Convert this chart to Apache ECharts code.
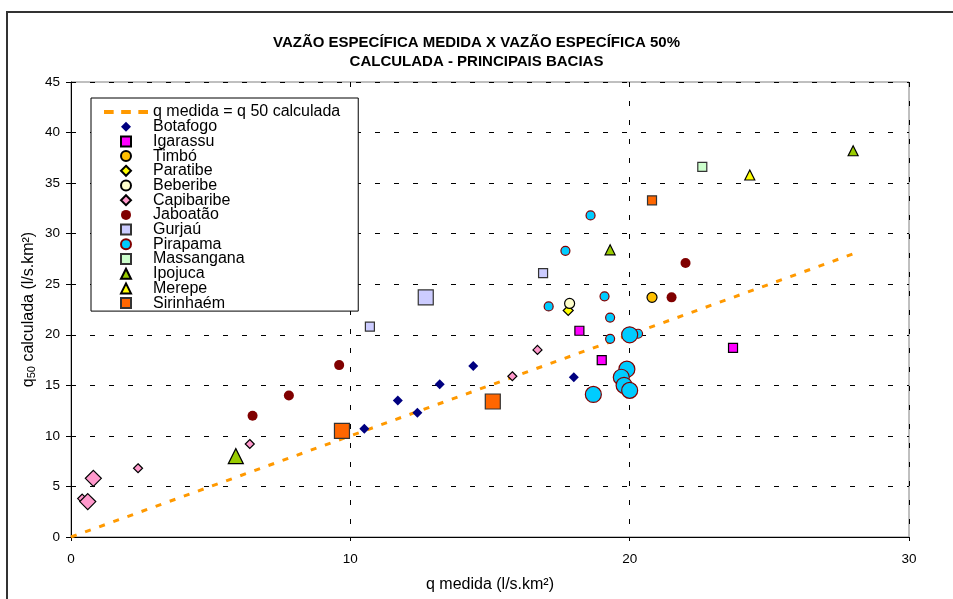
<!DOCTYPE html>
<html>
<head>
<meta charset="utf-8">
<script src="https://cdn.jsdelivr.net/npm/echarts@6/dist/echarts.min.js"></script>
<style>
  html, body { margin: 0; padding: 0; background: #fff; }
  #chart { width: 953px; height: 599px; }
</style>
</head>
<body>
<div id="chart"></div>
<script>
// reference line q medida = q 50 calculada
const refLine = [[0, 0], [28, 28]]

// [q medida, q50 calculada] per basin; "Big" arrays are the points drawn with larger markers
const botafogo = [[10.5, 10.7], [11.7, 13.5], [12.4, 12.3], [13.2, 15.1], [14.4, 16.9], [18.0, 15.8]]
const igarassu = [[18.2, 20.4], [19.0, 17.5], [23.7, 18.7]]
const timbo = [[20.8, 23.7]]
const paratibe = [[17.8, 22.4]]
const beberibe = [[17.85, 23.1]]
const capibaribe = [[0.4, 3.8], [2.4, 6.8], [6.4, 9.2], [15.8, 15.9], [16.7, 18.5]]
const capibaribeBig = [[0.8, 5.8], [0.6, 3.5]]
const jaboatao = [[6.5, 12.0], [7.8, 14.0], [9.6, 17.0], [21.5, 23.7], [22.0, 27.1]]
const gurjau = [[10.7, 20.8], [16.9, 26.1]]
const gurjauBig = [[12.7, 23.7]]
const pirapama = [[17.1, 22.8], [17.7, 28.3], [18.6, 31.8], [19.1, 23.8], [19.3, 21.7], [19.3, 19.6], [20.3, 20.1]]
const pirapamaBig = [[20.0, 20.0], [19.9, 16.6], [19.7, 15.8], [19.8, 15.0], [20.0, 14.5], [18.7, 14.1]]
const massangana = [[22.6, 36.6]]
const ipojuca = [[19.3, 28.4], [28.0, 38.2]]
const ipojucaBig = [[5.9, 8.0]]
const merepe = [[24.3, 35.8]]
const sirinhaem = [[20.8, 33.3]]
const sirinhaemBig = [[9.7, 10.5], [15.1, 13.4]]

const chart = echarts.init(document.getElementById('chart'))

// legend icons as paths so they keep their shape inside the wide legend slot
const icons = {
  diamond: 'path://M5,0L10,5L5,10L0,5Z',
  rect: 'path://M0,0L10,0L10,10L0,10Z',
  triangle: 'path://M5,0L10,10L0,10Z',
  circle: 'circle',
  dashes: 'path://M0,0h9v3.5h-9z M16,0h9v3.5h-9z M32,0h9v3.5h-9z'
}

function scatter(name, small, big, symbol, color, border, size, bigSize) {
  const data = small.map(p => p).concat((big || []).map(p => ({ value: p, symbolSize: bigSize })))
  return {
    name: name,
    type: 'scatter',
    symbol: symbol,
    symbolSize: size,
    data: data,
    itemStyle: {
      color: color,
      borderColor: border || color,
      borderWidth: border ? 1.2 : 0,
      opacity: 1
    },
    emphasis: { disabled: true },
    z: 3
  }
}

const series = [
  {
    name: 'q medida = q 50 calculada',
    type: 'line',
    data: refLine,
    symbol: 'none',
    lineStyle: { color: '#FF9900', width: 3, type: [6, 9] },
    itemStyle: { color: '#FF9900' },
    emphasis: { disabled: true },
    z: 2
  },
  scatter('Botafogo', botafogo, null, 'diamond', '#000080', null, 10, 10),
  scatter('Igarassu', igarassu, null, 'rect', '#FF00FF', '#000', 9, 9),
  scatter('Timbó', timbo, null, 'circle', '#FFC000', '#000', 10, 10),
  scatter('Paratibe', paratibe, null, 'diamond', '#FFFF00', '#000', 10, 10),
  scatter('Beberibe', beberibe, null, 'circle', '#FFFFCC', '#000', 10, 10),
  scatter('Capibaribe', capibaribe, capibaribeBig, 'diamond', '#FF99CC', '#000', 9, 16),
  scatter('Jaboatão', jaboatao, null, 'circle', '#800000', null, 10, 10),
  scatter('Gurjaú', gurjau, gurjauBig, 'rect', '#CCCCFF', '#333', 9, 15),
  scatter('Pirapama', pirapama, pirapamaBig, 'circle', '#00CCFF', '#800000', 9, 16),
  scatter('Massangana', massangana, null, 'rect', '#CCFFCC', '#333', 9, 9),
  scatter('Ipojuca', ipojuca, ipojucaBig, 'triangle', '#99CC00', '#000', 10, 15),
  scatter('Merepe', merepe, null, 'triangle', '#FFFF00', '#000', 10, 10),
  scatter('Sirinhaém', sirinhaem, sirinhaemBig, 'rect', '#FF6600', '#333', 9, 15)
]

const legendData = series.map(s => ({
  name: s.name,
  icon: s.type === 'line' ? icons.dashes : icons[s.symbol]
}))

const font = 'Arial, "Liberation Sans", sans-serif'

const option = {
  animation: false,
  backgroundColor: '#fff',
  textStyle: { fontFamily: font },
  title: {
    text: 'VAZÃO ESPECÍFICA MEDIDA X VAZÃO ESPECÍFICA 50%\nCALCULADA - PRINCIPAIS BACIAS',
    left: 'center',
    top: 28,
    textStyle: { fontSize: 15, fontWeight: 'bold', color: '#000', lineHeight: 19, fontFamily: font }
  },
  graphic: [{
    type: 'rect',
    shape: { x: 7, y: 12, width: 960, height: 620 },
    style: { fill: 'none', stroke: '#333', lineWidth: 2 },
    z: 0
  }],
  legend: {
    orient: 'vertical',
    left: 91,
    top: 98,
    padding: [6, 18, 0, 13],
    itemWidth: 44,
    itemHeight: 10,
    itemGap: -1.3,
    symbolKeepAspect: true,
    backgroundColor: '#fff',
    borderColor: '#000',
    borderWidth: 1,
    textStyle: { fontSize: 16, color: '#000', lineHeight: 14.7, fontFamily: font },
    data: legendData
  },
  grid: {
    left: 71,
    top: 82,
    right: 44,
    bottom: 62,
    show: true,
    borderColor: '#808080',
    borderWidth: 1
  },
  xAxis: {
    type: 'value',
    min: 0,
    max: 30,
    interval: 10,
    name: 'q medida (l/s.km²)',
    nameLocation: 'middle',
    nameGap: 40,
    nameMoveOverlap: false,
    nameTextStyle: { fontSize: 16, color: '#000' },
    axisLine: { onZero: false, lineStyle: { color: '#000', width: 1 } },
    axisTick: { show: true, length: 4, lineStyle: { color: '#000' } },
    axisLabel: { fontSize: 13.5, color: '#000', margin: 15 },
    splitLine: { show: true, lineStyle: { color: '#000', type: [5, 14], width: 1 } }
  },
  yAxis: {
    type: 'value',
    min: 0,
    max: 45,
    interval: 5,
    name: '{t|q}{s|50}{t| calculada (l/s.km²)}',
    nameLocation: 'middle',
    nameGap: 34,
    nameMoveOverlap: false,
    nameTextStyle: {
      color: '#000',
      rich: {
        t: { fontSize: 16, color: '#000', lineHeight: 20, verticalAlign: 'bottom', fontFamily: font },
        s: { fontSize: 11, color: '#000', lineHeight: 20, verticalAlign: 'bottom', fontFamily: font }
      }
    },
    axisLine: { show: true, onZero: false, lineStyle: { color: '#000', width: 1 } },
    axisTick: { show: true, length: 5, lineStyle: { color: '#000' } },
    axisLabel: { fontSize: 13.5, color: '#000', margin: 11 },
    splitLine: { show: true, lineStyle: { color: '#000', type: [5, 14], width: 1 } }
  },
  series: series
}

chart.setOption(option)
</script>
</body>
</html>
